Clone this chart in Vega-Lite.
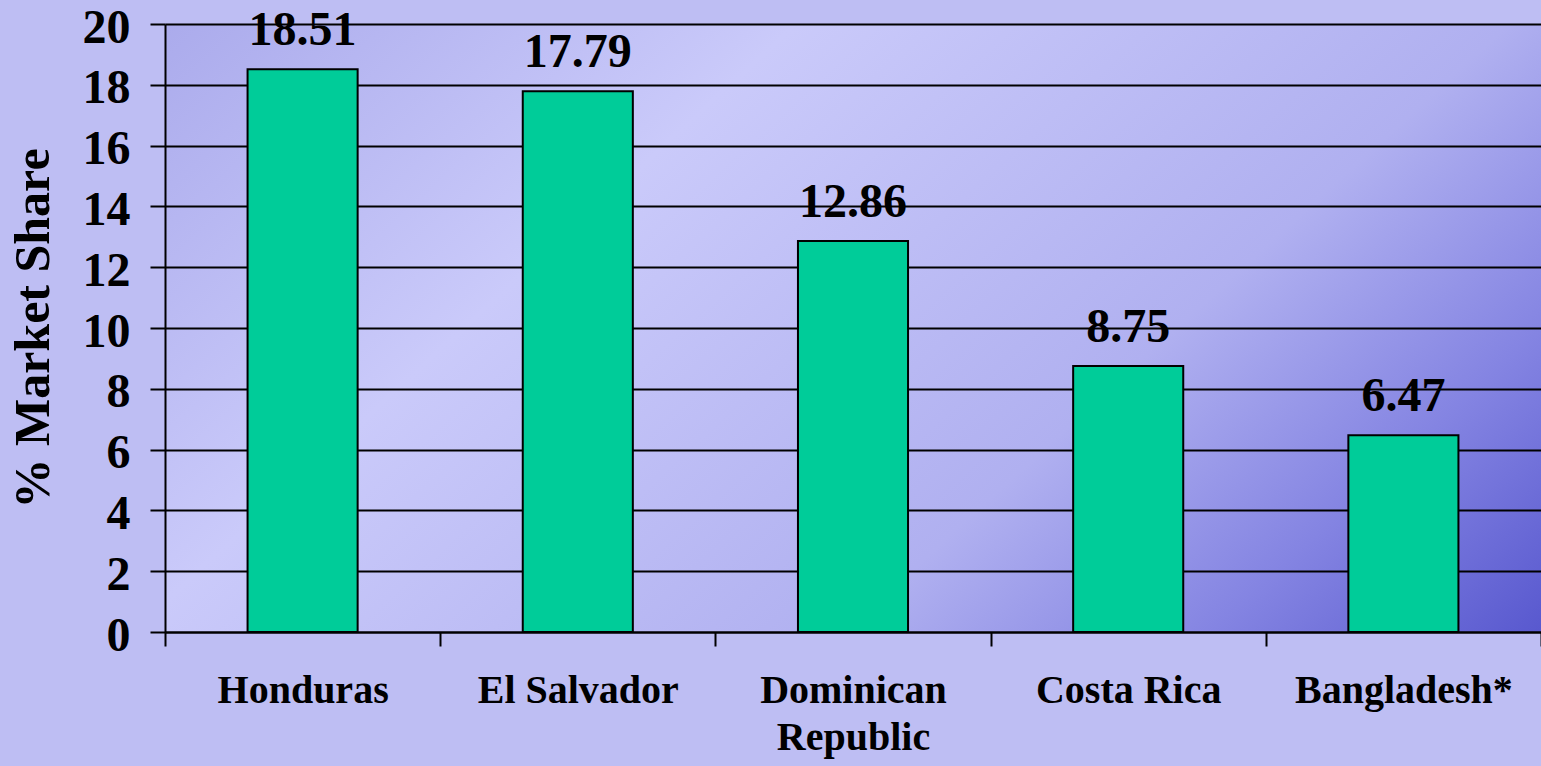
{
  "$schema": "https://vega.github.io/schema/vega-lite/v6.json",
  "width": 1376,
  "height": 608,
  "autosize": {"type": "none"},
  "padding": {"left": 165, "top": 24, "right": 0, "bottom": 134},
  "background": "#BEBEF3",
  "config": {
    "view": {
      "stroke": null,
      "fill": {
        "gradient": "linear",
        "x1": 0, "y1": 0, "x2": 1.2, "y2": 0.58,
        "stops": [
          {"offset": 0, "color": "#ABABEC"},
          {"offset": 0.31, "color": "#CACAFA"},
          {"offset": 0.66, "color": "#B0B0F0"},
          {"offset": 0.84, "color": "#8484E2"},
          {"offset": 1, "color": "#5959CF"}
        ]
      }
    },
    "font": "Liberation Serif"
  },
  "data": {
    "values": [
      {"country": "Honduras", "share": 18.51},
      {"country": "El Salvador", "share": 17.79},
      {"country": "Dominican Republic", "share": 12.86},
      {"country": "Costa Rica", "share": 8.75},
      {"country": "Bangladesh*", "share": 6.47}
    ]
  },
  "encoding": {
    "x": {
      "field": "country",
      "type": "nominal",
      "sort": null,
      "scale": {"paddingInner": 0, "paddingOuter": 0},
      "axis": {
        "title": null,
        "labelAngle": 0,
        "labelFont": "Liberation Serif",
        "labelFontWeight": "bold",
        "labelFontSize": 40,
        "labelColor": "black",
        "labelPadding": 24,
        "labelLineHeight": 47,
        "labelBaseline": "top",
        "labelLimit": 0,
        "labelExpr": "datum.label == 'Dominican Republic' ? ['Dominican', 'Republic'] : datum.label",
        "tickBand": "extent",
        "tickSize": 14,
        "tickWidth": 2,
        "tickColor": "black",
        "domainColor": "black",
        "domainWidth": 2,
        "grid": false
      }
    },
    "y": {
      "field": "share",
      "type": "quantitative",
      "scale": {"domain": [0, 20], "nice": false},
      "axis": {
        "values": [0, 2, 4, 6, 8, 10, 12, 14, 16, 18, 20],
        "title": "% Market Share",
        "titleFont": "Liberation Serif",
        "titleFontWeight": "bold",
        "titleFontSize": 50,
        "titleColor": "black",
        "titleAngle": -90,
        "titleAlign": "center",
        "titleBaseline": "middle",
        "titleX": -132,
        "titleY": 304,
        "labelFont": "Liberation Serif",
        "labelFontWeight": "bold",
        "labelFontSize": 48,
        "labelColor": "black",
        "labelPadding": 20,
        "labelOffset": 4,
        "tickSize": 15,
        "tickWidth": 2,
        "tickColor": "black",
        "domainColor": "black",
        "domainWidth": 2,
        "grid": true,
        "gridColor": "black",
        "gridWidth": 2,
        "gridOpacity": 1
      }
    }
  },
  "layer": [
    {
      "mark": {"type": "bar", "fill": "#00CC99", "stroke": "black", "strokeWidth": 2, "width": {"band": 0.4}}
    },
    {
      "mark": {
        "type": "text",
        "font": "Liberation Serif",
        "fontWeight": "bold",
        "fontSize": 48,
        "color": "black",
        "baseline": "alphabetic",
        "dy": -24
      },
      "encoding": {
        "text": {"field": "share", "type": "quantitative", "format": ".2f"}
      }
    }
  ]
}
